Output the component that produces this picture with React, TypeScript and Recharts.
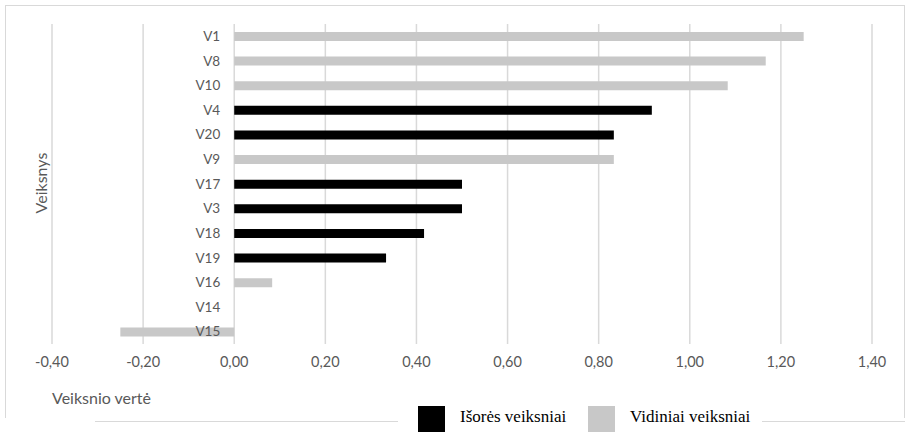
import { BarChart, Bar, XAxis, YAxis, CartesianGrid } from 'recharts';

// Factors, sorted as in the source chart (top to bottom)
const categories = ['V1', 'V8', 'V10', 'V4', 'V20', 'V9', 'V17', 'V3', 'V18', 'V19', 'V16', 'V14', 'V15'];

// Išorės veiksniai (external factors)
const isoresValues = [null, null, null, 0.9167, 0.8333, null, 0.5, 0.5, 0.4167, 0.3333, null, 0, null];

// Vidiniai veiksniai (internal factors)
const vidiniaiValues = [1.25, 1.1667, 1.0833, null, null, 0.8333, null, null, null, null, 0.0833, null, -0.25];

const xTicks = [-0.4, -0.2, 0, 0.2, 0.4, 0.6, 0.8, 1.0, 1.2, 1.4];

const seriesNames = ['Išorės veiksniai', 'Vidiniai veiksniai'];
const seriesColors = ['#000000', '#c8c8c8'];

const data = categories.map((name, i) => ({
  name,
  isores: isoresValues[i],
  vidiniai: vidiniaiValues[i],
}));

const WIDTH = 905;
const HEIGHT = 432;
const PLOT_LEFT = 52;
const PLOT_RIGHT = 872;
const DOMAIN: [number, number] = [-0.4, 1.4];

// category labels sit next to the zero line, like in Excel
const zeroX = PLOT_LEFT + ((0 - DOMAIN[0]) / (DOMAIN[1] - DOMAIN[0])) * (PLOT_RIGHT - PLOT_LEFT);

const FONT = 'Lato, "Open Sans", sans-serif';
const TEXT_COLOR = '#595959';

const renderCategoryTick = (props: any) => {
  const { y, payload } = props;
  return (
    <text
      key={payload.value}
      x={zeroX - 14}
      y={y}
      dy="0.35em"
      textAnchor="end"
      fill={TEXT_COLOR}
      fontSize={13.5}
      fontFamily={FONT}
    >
      {payload.value}
    </text>
  );
};

const fmt = (v: number) => v.toFixed(2).replace('.', ',');

export default function App() {
  return (
    <div style={{ position: 'absolute', left: 0, top: 0, width: WIDTH, height: HEIGHT, background: '#fff', overflow: 'hidden' }}>
      {/* chart frame */}
      <div style={{ position: 'absolute', left: 5, top: 5, width: 898, height: 412, borderTop: '1px solid #d9d9d9', borderLeft: '1px solid #d9d9d9', borderRight: '1px solid #d9d9d9' }} />
      <div style={{ position: 'absolute', left: 95, top: 421, width: 303, height: 0, borderTop: '1px solid #d9d9d9' }} />
      <div style={{ position: 'absolute', left: 762, top: 421, width: 143, height: 0, borderTop: '1px solid #d9d9d9' }} />

      <BarChart
        width={WIDTH}
        height={HEIGHT}
        data={data}
        layout="vertical"
        margin={{ top: 24, right: WIDTH - PLOT_RIGHT, bottom: 28, left: PLOT_LEFT - 10 }}
        barSize={9}
        style={{ position: 'absolute', left: 0, top: 0 }}
      >
        <CartesianGrid horizontal={false} stroke="#d9d9d9" strokeWidth={1.5} />
        <XAxis
          type="number"
          domain={DOMAIN}
          ticks={xTicks}
          tickFormatter={fmt}
          axisLine={false}
          tickLine={false}
          tickSize={0}
          tickMargin={13}
          height={60}
          tick={{ fill: TEXT_COLOR, fontSize: 14.5, fontFamily: FONT }}
          label={{
            value: 'Veiksnio vertė',
            position: 'insideBottomLeft',
            offset: 0,
            fill: TEXT_COLOR,
            fontSize: 16,
            fontFamily: FONT,
          }}
        />
        <YAxis
          type="category"
          dataKey="name"
          width={10}
          axisLine={false}
          tickLine={false}
          interval={0}
          tick={renderCategoryTick}
        />
        <Bar dataKey="isores" name={seriesNames[0]} stackId="a" fill={seriesColors[0]} isAnimationActive={false} />
        <Bar dataKey="vidiniai" name={seriesNames[1]} stackId="a" fill={seriesColors[1]} isAnimationActive={false} />
      </BarChart>

      {/* axis title */}
      <div
        style={{
          position: 'absolute',
          left: 40,
          top: 183,
          transform: 'translate(-50%, -50%) rotate(-90deg)',
          color: TEXT_COLOR,
          fontSize: 16,
          fontFamily: FONT,
          whiteSpace: 'nowrap',
        }}
      >
        Veiksnys
      </div>

      {/* legend */}
      {seriesNames.map((name, i) => (
        <div
          key={name}
          style={{
            position: 'absolute',
            left: i === 0 ? 418 : 588,
            top: 406,
            display: 'flex',
            alignItems: 'flex-start',
            fontFamily: '"Liberation Serif", "Times New Roman", serif',
            fontSize: 17,
            color: '#000',
          }}
        >
          <div style={{ width: 27, height: 30, background: seriesColors[i] }} />
          <span style={{ marginLeft: 15, marginTop: 1 }}>{name}</span>
        </div>
      ))}
    </div>
  );
}
